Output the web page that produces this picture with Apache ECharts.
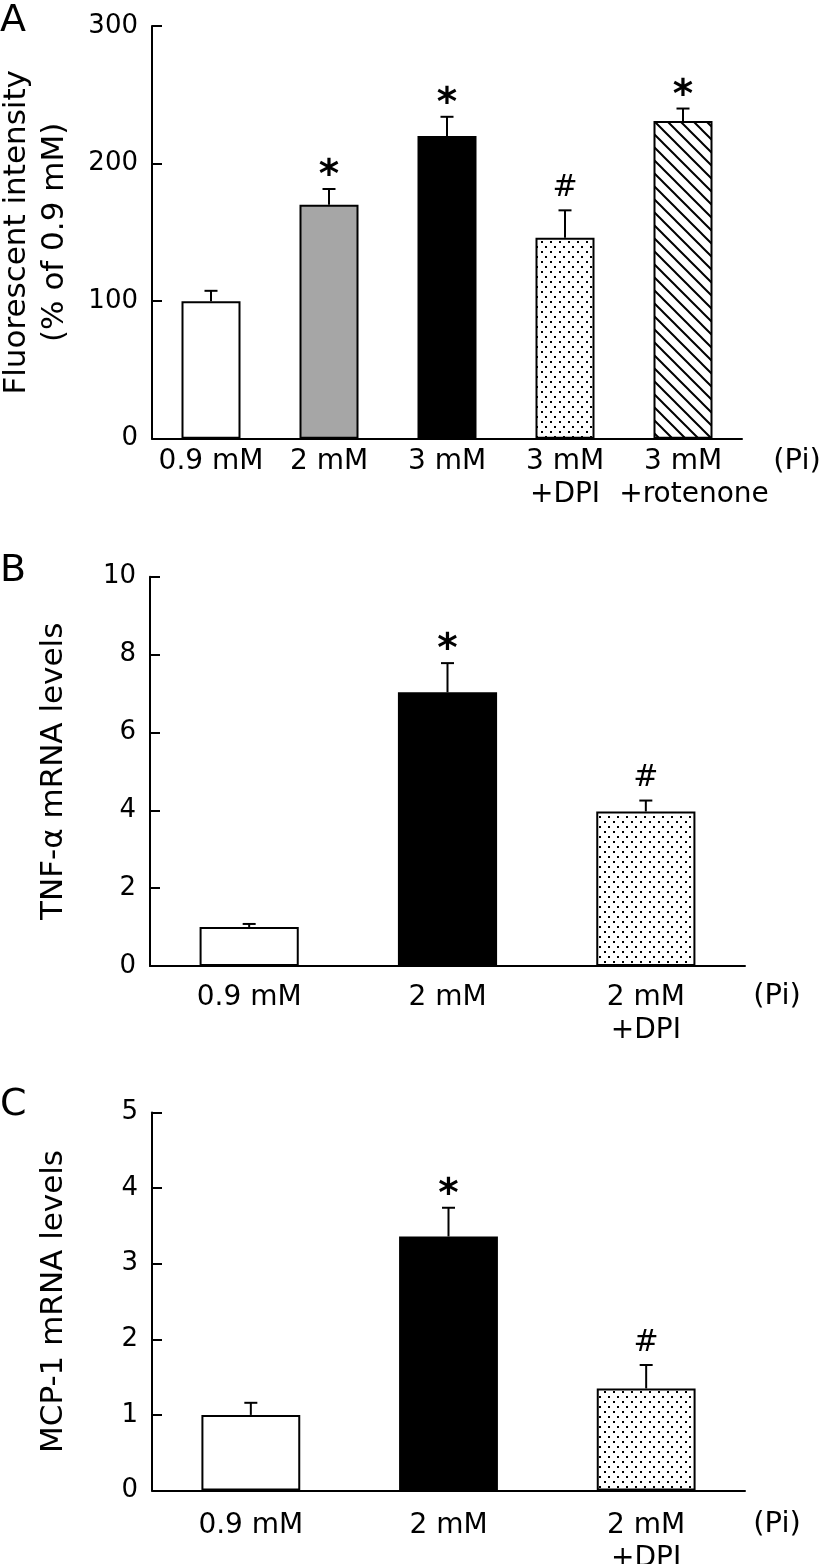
<!DOCTYPE html>
<html><head><meta charset="utf-8">
<script src="https://cdn.jsdelivr.net/npm/echarts@6/dist/echarts.min.js"></script>
<style>html,body{margin:0;padding:0;background:#fff}#c{width:826px;height:1564px}</style>
</head><body><div id="c"></div>
<script>
// ---- data ----
const catsA = ['0.9 mM', '2 mM', '3 mM', '3 mM\n+DPI', '3 mM\n{r|+rotenone}'];
const valsA = [100, 170, 220, 146, 231];
const errA = [7.5, 11.5, 14, 20, 9];
const marksA = ['', '*', '*', '#', '*'];
const fillsA = ['white', 'gray', 'black', 'dots', 'hatch'];

const catsB = ['0.9 mM', '2 mM', '2 mM\n+DPI'];
const valsB = [1.0, 7.03, 3.97];
const errB = [0.08, 0.75, 0.28];
const marksB = ['', '*', '#'];
const fillsB = ['white', 'black', 'dots'];

const catsC = ['0.9 mM', '2 mM', '2 mM\n+DPI'];
const valsC = [1.0, 3.36, 1.35];
const errC = [0.16, 0.38, 0.31];
const marksC = ['', '*', '#'];
const fillsC = ['white', 'black', 'dots'];

const titleA = 'Fluorescent intensity\n(% of 0.9 mM)';
const titleB = 'TNF-\u03b1 mRNA levels';
const titleC = 'MCP-1 mRNA levels';
const unitLabel = '(Pi)';

// ---- patterns ----
function dotPattern() {
  const c = document.createElement('canvas'); c.width = 9; c.height = 10;
  const g = c.getContext('2d');
  g.fillStyle = '#fff'; g.fillRect(0, 0, 9, 10);
  g.fillStyle = '#000'; g.fillRect(1, 1, 2, 2); g.fillRect(5, 6, 2, 2);
  return c;
}
function hatchPattern() {
  const s = 13;
  const c = document.createElement('canvas'); c.width = s; c.height = s;
  const g = c.getContext('2d');
  g.fillStyle = '#fff'; g.fillRect(0, 0, s, s);
  g.strokeStyle = '#000'; g.lineWidth = 2;
  g.beginPath();
  g.moveTo(-2, -2); g.lineTo(s + 2, s + 2);
  g.moveTo(s - 2, -2); g.lineTo(s + 2, 2);
  g.moveTo(-2, s - 2); g.lineTo(2, s + 2);
  g.stroke();
  return c;
}
const dots = dotPattern(), hatch = hatchPattern();
function fillOf(f) {
  if (f === 'white') return '#ffffff';
  if (f === 'gray') return '#a6a6a6';
  if (f === 'black') return '#000000';
  if (f === 'dots') return { image: dots, repeat: 'repeat' };
  if (f === 'hatch') return { image: hatch, repeat: 'repeat' };
}

const FONT = 'DejaVu Sans';

function barSeries(idx, vals, fills) {
  return {
    type: 'bar', xAxisIndex: idx, yAxisIndex: idx, barWidth: '50%',
    data: vals.map((v, i) => ({ value: v, itemStyle: { color: fillOf(fills[i]) } })),
    itemStyle: { borderColor: '#000', borderWidth: 2 },
    emphasis: { disabled: true }, animation: false
  };
}
function errSeries(idx, vals, errs, marks) {
  return {
    type: 'custom', xAxisIndex: idx, yAxisIndex: idx, z: 5, animation: false,
    data: vals.map((v, i) => [i, v, v + errs[i]]),
    renderItem(params, api) {
      const i = api.value(0);
      const top = api.coord([i, api.value(1)]);
      const et = api.coord([i, api.value(2)]);
      const m = marks[params.dataIndex];
      const ch = [
        { type: 'line', shape: { x1: top[0], y1: top[1], x2: et[0], y2: et[1] }, style: { stroke: '#000', lineWidth: 2 } },
        { type: 'line', shape: { x1: et[0] - 6.5, y1: et[1], x2: et[0] + 6.5, y2: et[1] }, style: { stroke: '#000', lineWidth: 2 } }
      ];
      if (m === '*') {
        ch.push({ type: 'text', x: et[0], y: et[1] - 12, style: { text: '*', fontFamily: FONT, fontWeight: 'bold', fontSize: 39, fill: '#000', align: 'center', verticalAlign: 'middle' } });
      } else if (m === '#') {
        ch.push({ type: 'text', x: et[0], y: et[1] - 22, style: { text: '#', fontFamily: FONT, fontSize: 30, fill: '#000', align: 'center', verticalAlign: 'middle' } });
      }
      return { type: 'group', children: ch };
    }
  };
}

const axLine = { show: true, lineStyle: { color: '#000', width: 2 } };
function xAxis(idx, cats, margin) {
  return {
    type: 'category', gridIndex: idx, data: cats,
    axisLine: axLine, axisTick: { show: false },
    axisLabel: { interval: 0, color: '#000', fontFamily: FONT, fontSize: 28, lineHeight: 33, margin: margin,
      rich: { r: { color: '#000', fontFamily: FONT, fontSize: 28, lineHeight: 33, padding: [0, 0, 0, 22] } } }
  };
}
function yAxis(idx, max, interval, name, gap) {
  return {
    type: 'value', gridIndex: idx, min: 0, max: max, interval: interval,
    name: name, nameLocation: 'middle', nameRotate: 90, nameGap: gap,
    nameTextStyle: { color: '#000', fontFamily: FONT, fontSize: 31, lineHeight: 38 },
    axisLine: axLine, axisTick: { show: true, inside: true, length: 10, lineStyle: { color: '#000', width: 2 } },
    splitLine: { show: false },
    axisLabel: { color: '#000', fontFamily: FONT, fontSize: 26, margin: 14 }
  };
}

const chart = echarts.init(document.getElementById('c'), null, { renderer: 'canvas' });
chart.setOption({
  backgroundColor: '#fff',
  animation: false,
  grid: [
    { left: 152, top: 26, width: 590, height: 412.7, containLabel: false, outerBoundsMode: 'none' },
    { left: 150, top: 576.7, width: 595, height: 389.3, containLabel: false, outerBoundsMode: 'none' },
    { left: 152, top: 1112.5, width: 593, height: 378, containLabel: false, outerBoundsMode: 'none' }
  ],
  xAxis: [xAxis(0, catsA, 7), xAxis(1, catsB, 15), xAxis(2, catsC, 19)],
  yAxis: [yAxis(0, 300, 100, titleA, 78), yAxis(1, 10, 2, titleB, 77), yAxis(2, 5, 1, titleC, 79)],
  series: [
    barSeries(0, valsA, fillsA), errSeries(0, valsA, errA, marksA),
    barSeries(1, valsB, fillsB), errSeries(1, valsB, errB, marksB),
    barSeries(2, valsC, fillsC), errSeries(2, valsC, errC, marksC)
  ],
  graphic: [
    { type: 'text', left: 0, top: 2, style: { text: 'A', fontFamily: FONT, fontSize: 38, fill: '#000' } },
    { type: 'text', left: 0, top: 552, style: { text: 'B', fontFamily: FONT, fontSize: 38, fill: '#000' } },
    { type: 'text', left: 0, top: 1086, style: { text: 'C', fontFamily: FONT, fontSize: 38, fill: '#000' } },
    { type: 'text', x: 797, y: 461, style: { text: unitLabel, fontFamily: FONT, fontSize: 29, fill: '#000', align: 'center', verticalAlign: 'middle' } },
    { type: 'text', x: 777, y: 996, style: { text: unitLabel, fontFamily: FONT, fontSize: 29, fill: '#000', align: 'center', verticalAlign: 'middle' } },
    { type: 'text', x: 777, y: 1524, style: { text: unitLabel, fontFamily: FONT, fontSize: 29, fill: '#000', align: 'center', verticalAlign: 'middle' } }
  ]
});
</script></body></html>
